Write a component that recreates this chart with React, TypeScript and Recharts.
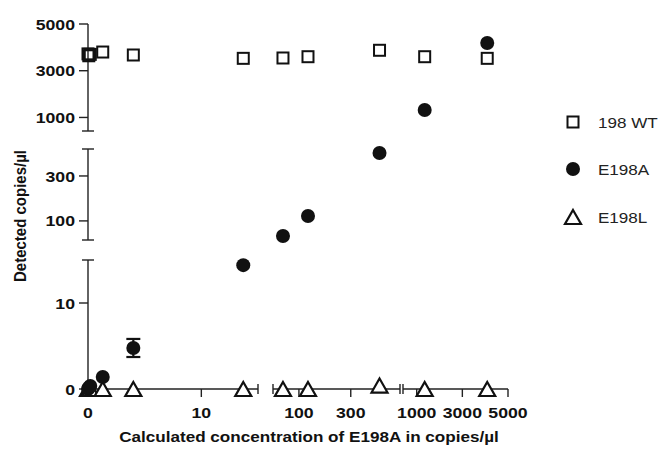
import React from "react";
import { ScatterChart, Scatter, XAxis, YAxis, ReferenceLine, ErrorBar } from "recharts";

// calculated E198A concentration (copies/µl) for each dilution
const calculated = [0, 0.07, 0.2, 1.3, 4.0, 13.7, 38.5, 135, 411, 1350, 4090];
// detected copies/µl per assay
const wt198 = [3720, 3640, 3700, 3800, 3673, 3530, 3545, 3600, 3875, 3600, 3530];
const e198a = [0, 0.15, 0.35, 1.4, 4.77, 14.4, 33, 122, 402, 1319, 4187];
const e198aErr = [null, null, null, null, 1.05, null, null, null, null, null, null];
const e198l = [0, 0, 0, 0, 0, 0, 0, 0, 0.4, 0, 0];

const xTickValues = [0, 10, 100, 300, 1000, 3000, 5000];
const yTickValues = [0, 10, 100, 300, 1000, 3000, 5000];

const seriesNames = ["198 WT", "E198A", "E198L"];

// broken axes: each segment maps [lo, hi] onto a stretch of the plot
const xSegments = [
  { lo: 0, hi: 15, from: 0, to: 170 },
  { lo: 0, hi: 490, from: 185, to: 312 },
  { lo: 400, hi: 5000, from: 315, to: 420 },
];
const ySegments = [
  { lo: 0, hi: 15, from: 0, to: 129 },
  { lo: 15, hi: 420, from: 149, to: 240 },
  { lo: 420, hi: 5000, from: 258, to: 365 },
];

type Seg = { lo: number; hi: number; from: number; to: number };
const brokenScale = (segs: Seg[]) => (v: number) => {
  const s = segs.find((g) => v <= g.hi) ?? segs[segs.length - 1];
  return s.from + ((v - s.lo) / (s.hi - s.lo)) * (s.to - s.from);
};
const tx = brokenScale(xSegments);
const ty = brokenScale(ySegments);

const xTicks = xTickValues.map(tx);
const yTicks = yTickValues.map(ty);

const wtData = calculated.map((c, i) => ({ x: tx(c), y: ty(wt198[i]) }));
const aData = calculated.map((c, i) => {
  const e = e198aErr[i];
  const v = e198a[i];
  return {
    x: tx(c),
    y: ty(v),
    err: e == null ? null : [ty(v) - ty(v - e), ty(v + e) - ty(v)],
  };
});
const lData = calculated.map((c, i) => ({ x: tx(c), y: ty(e198l[i]) }));

const INK = "#111";
const AXIS = "#222";
const arial = "'Liberation Sans', Arial, sans-serif";

const Square = ({ cx, cy }: any) => (
  <rect x={cx - 5.5} y={cy - 5.5} width={11} height={11} fill="none" stroke={INK} strokeWidth={2} />
);
const Dot = ({ cx, cy }: any) => <circle cx={cx} cy={cy} r={7} fill={INK} />;
const Triangle = ({ cx, cy }: any) => (
  <path
    d={`M${cx},${cy - 7} L${cx + 8},${cy + 7} L${cx - 8},${cy + 7} Z`}
    fill="#fff"
    stroke={INK}
    strokeWidth={2.2}
  />
);

const nearest = (arr: number[], v: number) => {
  let best = 0;
  arr.forEach((a, i) => {
    if (Math.abs(a - v) < Math.abs(arr[best] - v)) best = i;
  });
  return best;
};

const XTick = ({ x, y, payload }: any) => (
  <g transform={`translate(${x},${y})`}>
    <text transform="scale(1.14,1)" textAnchor="middle" dy="0.71em" fill={INK} fontFamily={arial} fontWeight={700} fontSize={15.5}>
      {xTickValues[nearest(xTicks, payload.value)]}
    </text>
  </g>
);
const YTick = ({ x, y, payload }: any) => (
  <g transform={`translate(${x},${y})`}>
    <text transform="scale(1.14,1)" textAnchor="end" dy="0.36em" fill={INK} fontFamily={arial} fontWeight={700} fontSize={15.5}>
      {yTickValues[nearest(yTicks, payload.value)]}
    </text>
  </g>
);

// axis segment with caps at the break ends
const segShape = (vertical: boolean, capStart: boolean, capEnd: boolean) => (p: any) => {
  const { x1, y1, x2, y2 } = p;
  const cap = (x: number, y: number) =>
    vertical ? <line x1={x - 6} y1={y} x2={x + 6} y2={y} /> : <line x1={x} y1={y - 5} x2={x} y2={y + 5} />;
  return (
    <g stroke={AXIS} strokeWidth={1.4}>
      <line x1={x1} y1={y1} x2={x2} y2={y2} />
      {capStart && cap(x1, y1)}
      {capEnd && cap(x2, y2)}
    </g>
  );
};

export default function App() {
  return (
    <div style={{ position: "relative", width: 652, height: 445 }}>
      <ScatterChart width={652} height={445} margin={{ top: 16, right: 152, bottom: 24, left: 20 }}>
        <XAxis
          type="number"
          dataKey="x"
          domain={[0, 420]}
          ticks={xTicks}
          interval={0}
          height={40}
          axisLine={false}
          tickLine={{ stroke: AXIS, strokeWidth: 1.4 }}
          tickSize={8}
          tickMargin={10}
          tick={<XTick />}
        />
        <YAxis
          type="number"
          dataKey="y"
          domain={[0, 365]}
          ticks={yTicks}
          interval={0}
          width={60}
          axisLine={false}
          tickLine={{ stroke: AXIS, strokeWidth: 1.4 }}
          tickSize={9}
          tickMargin={4}
          tick={<YTick />}
        />
        {xSegments.map((s, i) => (
          <ReferenceLine
            key={"xs" + i}
            segment={[{ x: s.from, y: 0 }, { x: s.to, y: 0 }]}
            ifOverflow="visible"
            shape={segShape(false, i > 0, i < xSegments.length - 1)}
          />
        ))}
        {ySegments.map((s, i) => (
          <ReferenceLine
            key={"ys" + i}
            segment={[{ x: 0, y: s.from }, { x: 0, y: s.to }]}
            ifOverflow="visible"
            shape={segShape(true, i > 0, i < ySegments.length - 1)}
          />
        ))}
        <Scatter name={seriesNames[2]} data={lData} shape={<Triangle />} isAnimationActive={false} />
        <Scatter name={seriesNames[0]} data={wtData} shape={<Square />} isAnimationActive={false} />
        <Scatter name={seriesNames[1]} data={aData} shape={<Dot />} isAnimationActive={false}>
          <ErrorBar dataKey="err" direction="y" width={7} stroke={INK} strokeWidth={2.2} />
        </Scatter>
      </ScatterChart>
      <svg width={652} height={445} style={{ position: "absolute", left: 0, top: 0, pointerEvents: "none", overflow: "visible" }}>
        <text
          transform="translate(18,208) scale(1.14,1) rotate(-90)"
          textAnchor="middle"
          fill={INK}
          fontFamily={arial}
          fontWeight={700}
          fontSize={15}
        >
          Detected copies/µl
        </text>
        <text
          transform="translate(301,434) scale(1.14,1)"
          textAnchor="middle"
          fill={INK}
          fontFamily={arial}
          fontWeight={700}
          fontSize={15}
        >
          Calculated concentration of E198A in copies/µl
        </text>
        {[Square, Dot, Triangle].map((M, i) => {
          const cy = [114, 161, 209][i];
          return (
            <g key={i}>
              <M cx={565} cy={cy} />
              <text
                transform={`translate(590,${cy}) scale(1.1,1)`}
                dy="0.36em"
                fill="#222"
                fontFamily={arial}
                fontSize={15.5}
              >
                {seriesNames[i]}
              </text>
            </g>
          );
        })}
      </svg>
    </div>
  );
}
